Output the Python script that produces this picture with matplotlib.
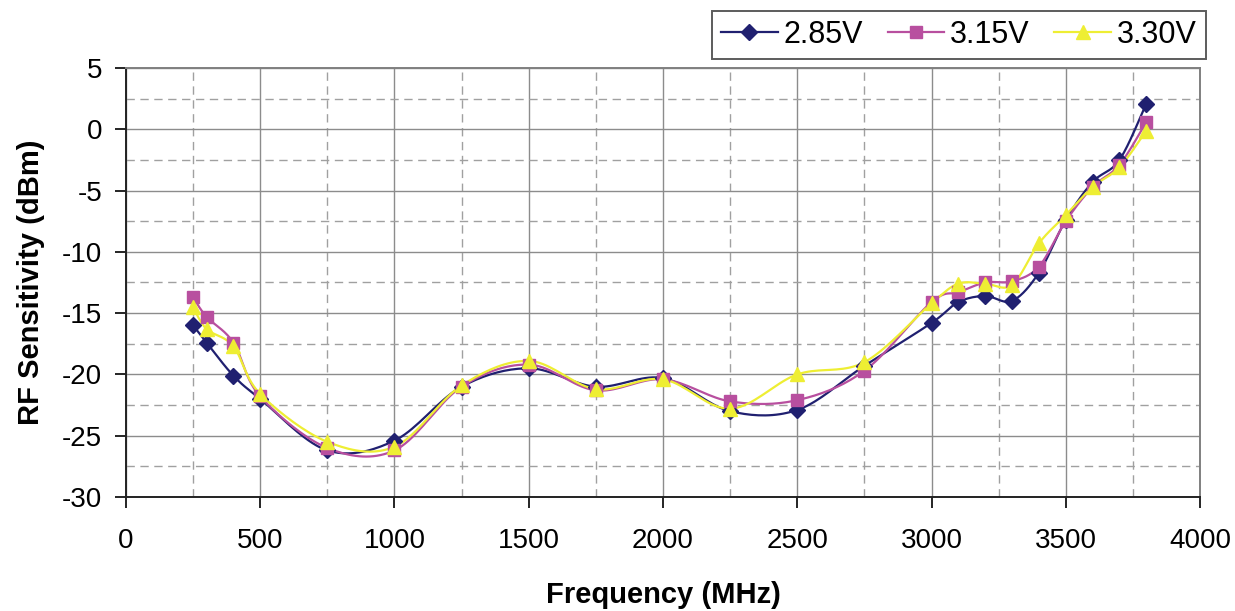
import matplotlib
matplotlib.use("Agg")
import matplotlib.pyplot as plt
import numpy as np

# frequency points (MHz)
freq = [250, 300, 400, 500, 750, 1000, 1250, 1500, 1750, 2000, 2250,
        2500, 2750, 3000, 3100, 3200, 3300, 3400, 3500, 3600, 3700, 3800]

# RF sensitivity (dBm) per supply voltage
v285 = [-16.0, -17.4, -20.1, -22.0, -26.2, -25.4, -21.0, -19.5, -21.0, -20.3, -23.0,
        -22.9, -19.3, -15.8, -14.1, -13.6, -14.0, -11.7, -7.4, -4.3, -2.5, 2.1]
v315 = [-13.7, -15.3, -17.4, -21.8, -26.0, -26.2, -21.0, -19.2, -21.3, -20.4, -22.2,
        -22.1, -19.7, -14.1, -13.3, -12.5, -12.4, -11.2, -7.5, -4.7, -2.9, 0.6]
v330 = [-14.5, -16.3, -17.7, -21.6, -25.5, -25.9, -20.9, -18.9, -21.2, -20.4, -22.8,
        -20.0, -19.0, -14.2, -12.6, -12.6, -12.7, -9.3, -7.0, -4.7, -3.1, -0.1]

labels = ["2.85V", "3.15V", "3.30V"]
colors = ["#202070", "#B84F9F", "#EEEE33"]
markers = ["D", "s", "^"]
msizes = [8, 9, 10]


def smooth(x, y, n=20):
    # Excel style smoothed line: cubic bezier with catmull-rom control points
    x = np.asarray(x, float)
    y = np.asarray(y, float)
    sx, sy = 1074 / 4000.0, 12.26   # work in pixel-like space
    px, py = x * sx, y * sy
    px = np.concatenate([[px[0]], px, [px[-1]]])
    py = np.concatenate([[py[0]], py, [py[-1]]])
    t = np.linspace(0, 1, n)[:, None]
    xs, ys = [], []
    for i in range(1, len(px) - 2):
        p0 = np.array([px[i], py[i]])
        p3 = np.array([px[i + 1], py[i + 1]])
        c1 = p0 + (np.array([px[i + 1], py[i + 1]]) - np.array([px[i - 1], py[i - 1]])) / 6
        c2 = p3 - (np.array([px[i + 2], py[i + 2]]) - np.array([px[i], py[i]])) / 6
        b = ((1 - t) ** 3) * p0 + 3 * ((1 - t) ** 2) * t * c1 + 3 * (1 - t) * t ** 2 * c2 + t ** 3 * p3
        xs.append(b[:, 0])
        ys.append(b[:, 1])
    return np.concatenate(xs) / sx, np.concatenate(ys) / sy


plt.rcParams['font.family'] = ['Liberation Sans', 'DejaVu Sans']
plt.rcParams['axes.unicode_minus'] = False

fig = plt.figure(figsize=(12.35, 6.11), dpi=100)
ax = fig.add_axes([0.102, 0.1866, 0.8697, 0.7021])

handles = []
for vals, lab, c, m, ms in zip([v285, v315, v330], labels, colors, markers, msizes):
    sx, sy = smooth(freq, vals)
    ax.plot(sx, sy, color=c, lw=1.6, zorder=3)
    ax.plot(freq, vals, ls="none", marker=m, ms=ms, color=c, mec=c, zorder=4)
    h, = ax.plot([], [], color=c, lw=1.6, marker=m, ms=ms, mec=c, label=lab)
    handles.append(h)

ax.set_xlim(0, 4000)
ax.set_ylim(-30, 5)
ax.set_xticks(np.arange(0, 4001, 500))
ax.set_yticks(np.arange(-30, 6, 5))
ax.set_xticks(np.arange(250, 4000, 500), minor=True)
ax.set_yticks(np.arange(-27.5, 5, 5), minor=True)

ax.grid(which="major", color="#8c8c8c", lw=1.0, ls="-")
ax.grid(which="minor", color="#a0a0a0", lw=1.0, ls=(0, (6, 4)))
ax.set_axisbelow(True)

ax.tick_params(which="major", direction="out", length=8, width=1.2, labelsize=20, colors="black")
ax.tick_params(axis="x", which="major", pad=14)
ax.tick_params(axis="y", which="major", pad=9)
ax.tick_params(which="minor", length=0)
for s in ["left", "bottom"]:
    ax.spines[s].set_color("#222222")
    ax.spines[s].set_linewidth(1.4)
for s in ["top", "right"]:
    ax.spines[s].set_color("#808080")
    ax.spines[s].set_linewidth(1.4)

ax.set_xlabel("Frequency (MHz)", fontsize=21, fontweight="bold", labelpad=20)
ax.set_ylabel("RF Sensitivity (dBm)", fontsize=21, fontweight="bold", labelpad=12)

leg = fig.legend(handles=handles, loc="upper right", bbox_to_anchor=(0.9765, 0.982),
                 ncol=3, fontsize=22, frameon=True, fancybox=False,
                 handlelength=1.85, handletextpad=0.2, columnspacing=0.8,
                 borderpad=0.3, borderaxespad=0, edgecolor="#333333")
leg.get_frame().set_linewidth(1.4)

fig.savefig("out.png", dpi=100)
